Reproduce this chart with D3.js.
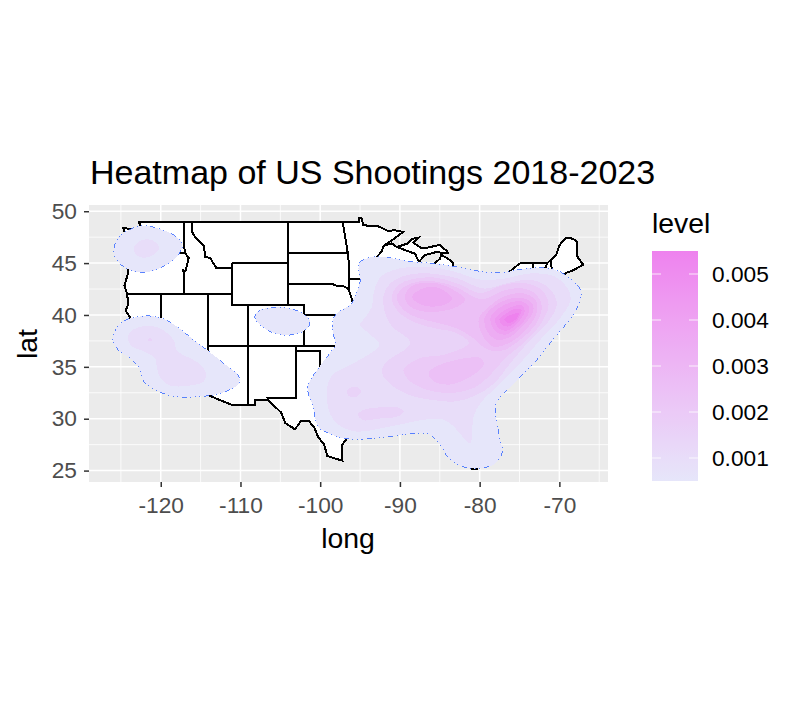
<!DOCTYPE html>
<html>
<head>
<meta charset="utf-8">
<script src="https://cdn.jsdelivr.net/npm/d3@7"></script>
<style>
  body { margin: 0; background: #fff; }
  text { font-family: "Liberation Sans", Arial, sans-serif; }
</style>
</head>
<body>
<div id="chart"></div>
<script>
// axis ticks and legend breaks
const lonTicks = [-120, -110, -100, -90, -80, -70];
const lonMinor = [-125, -115, -105, -95, -85, -75, -65];
const latTicks = [25, 30, 35, 40, 45, 50];
const latMinor = [27.5, 32.5, 37.5, 42.5, 47.5];
const levelTicks = [0.001, 0.002, 0.003, 0.004, 0.005];

// outline of the lower 48 [lon, lat]
const usOutline = [[-122.75,49],[-95.15,49],[-95.15,49.35],[-94.8,49.3],[-94.6,48.7],[-93.8,48.55],[-92.9,48.6],[-92,48.3],[-91.4,48.05],[-90.8,48.2],[-89.6,48],[-90.8,47.3],[-92,46.7],[-91,46.9],[-90.4,46.55],[-89,46.9],[-88.4,47.35],[-87.7,47.45],[-88.3,46.95],[-87.4,46.5],[-86.5,46.5],[-85,46.75],[-84.6,46.45],[-84.1,46.2],[-84,45.95],[-84.7,46],[-85.5,46.05],[-86.5,45.85],[-87,45.7],[-87.6,45.1],[-88,44.55],[-87.4,44.9],[-87.5,44.3],[-87.9,43],[-87.8,42.3],[-87.5,41.7],[-87,41.65],[-86.5,42.1],[-86.2,43],[-86.5,43.7],[-86.2,44.7],[-85.6,45],[-85,45.4],[-84.8,45.78],[-84.1,45.5],[-83.4,45.1],[-83.3,44.3],[-83.9,43.7],[-83,44.05],[-82.5,43],[-83.1,42.2],[-83.4,41.75],[-82.7,41.45],[-81.7,41.5],[-80.5,42],[-79,42.7],[-79,43.3],[-77.5,43.25],[-76.3,43.55],[-76.3,44.15],[-75,44.95],[-74.7,45],[-71.5,45],[-71.1,45.3],[-70.4,45.8],[-70,46.7],[-69.2,47.45],[-68.3,47.35],[-67.8,47.05],[-67.8,45.7],[-67.45,45.3],[-67,44.85],[-68.3,44.3],[-69,44.1],[-70.2,43.6],[-70.7,43.05],[-70.8,42.6],[-71,42.3],[-70.6,41.9],[-70,42],[-70,41.65],[-71.2,41.5],[-72.9,41.25],[-74,40.7],[-74,40],[-74.9,39],[-75.5,39.5],[-75.1,38.5],[-75.9,37.1],[-76,36.9],[-75.5,35.25],[-76.5,34.65],[-77.9,33.9],[-79.2,33.2],[-80.9,32],[-81.4,30.7],[-81.2,29.5],[-80.5,28.3],[-80,26.8],[-80.2,25.3],[-80.4,25.12],[-81,25.12],[-81.8,26],[-82.7,27.7],[-82.8,29],[-84,30.1],[-85.4,29.7],[-86.5,30.4],[-88,30.3],[-89.4,30.3],[-89.4,29.1],[-90.8,29.1],[-92,29.6],[-93.8,29.7],[-94.8,29.3],[-96.4,28.4],[-97.3,27.4],[-97.2,25.95],[-99.1,26.4],[-99.5,27.5],[-100.3,28.3],[-100.7,29.1],[-101.4,29.77],[-102.4,29.8],[-102.9,29.25],[-103.2,29],[-104.4,29.6],[-104.9,30.6],[-106.5,31.77],[-108.2,31.78],[-108.2,31.33],[-111.07,31.33],[-114.8,32.5],[-114.72,32.72],[-117.12,32.53],[-117.3,33],[-118.4,33.75],[-118.5,34.03],[-119.2,34.15],[-120.5,34.45],[-120.65,35.15],[-121.9,36.6],[-122,36.95],[-122.5,37.5],[-123,38],[-123.75,39],[-123.85,39.8],[-124.4,40.4],[-124.1,41],[-124.2,42],[-124.55,42.85],[-124.1,44],[-123.95,46.2],[-124.1,46.9],[-124.7,48.4],[-123.1,48.15],[-122.75,48.1],[-122.4,47.4],[-122.3,48],[-122.75,49]];

// state borders, west to east
const stateBorders = [
  [[-123.95,46.2],[-123.2,46.15],[-122.8,45.7],[-121.2,45.7],[-119.3,45.9],[-119,46],[-116.95,46]],
  [[-117.03,49],[-117.03,46.4],[-116.95,46],[-116.5,45.5],[-116.9,44.2],[-117.2,44.3],[-117.03,43.8],[-117.03,42]],
  [[-124.2,42],[-111.05,42]],
  [[-120,42],[-120,39],[-114.63,35]],
  [[-114.05,42],[-114.05,36.2],[-114.7,36.1],[-114.63,35],[-114.15,34.3],[-114.7,33.4],[-114.72,32.72]],
  [[-114.05,37],[-94.62,37]],
  [[-111.05,45],[-111.05,41],[-109.05,41],[-109.05,31.33]],
  [[-111.05,45],[-104.05,45]],
  [[-109.05,41],[-102.05,41],[-102.05,37]],
  [[-116.05,49],[-116.05,48],[-115.7,47.5],[-114.6,46.7],[-114.4,45.6],[-113.8,45.5],[-113.5,45.1],[-113,44.5],[-111.5,44.55],[-111.05,44.5]],
  [[-104.05,49],[-104.05,41]],
  [[-104.05,45.94],[-96.58,45.94]],
  [[-104.05,43],[-98.5,43],[-97.9,42.8],[-97,42.75],[-96.45,42.5]],
  [[-102.05,40],[-95.3,40]],
  [[-103,37],[-103,36.5],[-100,36.5],[-100,34.6],[-97,33.8],[-94.5,33.6]],
  [[-103,36.5],[-103.05,32],[-106.62,32],[-106.5,31.77]],
  [[-97.2,49],[-96.6,46.3],[-96.45,45.3],[-96.45,43.5],[-96.45,42.5],[-95.9,41.2],[-95.3,40],[-94.62,39.1],[-94.62,36.5],[-94.45,33.6],[-94.05,33],[-93.6,31.2],[-93.8,29.7]],
  [[-92,46.7],[-92.3,46.1],[-92.9,45.6],[-92.8,44.8],[-91.2,43.5],[-91.1,42.7],[-90.2,41.8],[-91.4,40.4],[-90.2,38.8],[-89.2,37],[-89.7,36],[-90.1,35],[-91.2,33],[-91.6,31],[-89.7,31],[-89.4,30.3]],
  [[-96.45,43.5],[-91.2,43.5]],
  [[-95.8,40.6],[-91.4,40.6]],
  [[-90.4,46.55],[-88.1,45.9],[-87.6,45.1]],
  [[-90.6,42.5],[-87.8,42.5]],
  [[-87.5,41.7],[-87.5,39.3],[-88,37.9],[-89.2,37]],
  [[-87,41.76],[-84.8,41.7],[-83.4,41.75]],
  [[-84.8,41.7],[-84.8,39.1],[-83,38.7],[-82.6,38.2],[-81.7,37.2],[-83.7,36.6],[-89.7,36.5]],
  [[-88,37.9],[-86,38],[-84.8,39.1]],
  [[-80.52,42],[-80.52,39.7],[-79.5,39.7],[-75.8,39.7]],
  [[-79,42],[-75.3,42],[-74.7,41.4],[-73.9,41]],
  [[-75.5,39.8],[-74.7,41.4]],
  [[-80.52,40.6],[-81.7,39.2],[-82.6,38.2]],
  [[-79.5,39.7],[-79.5,39.2],[-78.3,39.6],[-77.7,39.3],[-77,38.9],[-76.3,38]],
  [[-75.8,36.55],[-83.7,36.6]],
  [[-90.1,35],[-83.1,35],[-84.3,35],[-82.3,35.2],[-81,35.1],[-79.7,34.8],[-78.6,33.9]],
  [[-88.2,35],[-88.4,30.3]],
  [[-85.6,35],[-85.1,32.3],[-85,31],[-87.6,31],[-87.5,30.3]],
  [[-85,30.7],[-84.9,30.7],[-82.2,30.6],[-81.4,30.7]],
  [[-83.1,35],[-81,32]],
  [[-73.3,45],[-73.3,42.75],[-73.5,42],[-73.7,41.1]],
  [[-71.5,45],[-72.05,44],[-72.45,43],[-72.5,42.73]],
  [[-71.1,45.3],[-70.7,43.1]],
  [[-73.3,42.73],[-70.85,42.85]],
  [[-73.5,42.05],[-71.8,42.02],[-71.4,42],[-71.2,41.5]],
  [[-71.8,42.02],[-71.85,41.35]]
];

// density contours [lon, lat], one band per level
const lowestLevel = 0.0005;
const highestLevel = 0.0055;

const nwOuter = [[-125.9,46.1],[-125.3,47.5],[-124,48.2],[-122.2,48.6],[-119.8,48.2],[-118,47.5],[-117.3,46.7],[-118,45.6],[-119.6,44.7],[-121.9,44.1],[-123.8,44.3],[-125.3,45.1]];
const nwInner = [[-123.4,46.4],[-122.8,47.05],[-121.7,47.3],[-120.7,47.05],[-120.2,46.4],[-120.9,45.8],[-122.1,45.5],[-123.1,45.8]];
const coOuter = [[-108.2,39.8],[-107.7,40.4],[-106.25,40.7],[-104.2,40.7],[-102.3,40.2],[-101.3,39.4],[-101.65,38.7],[-102.9,38.2],[-104.6,38.05],[-106.25,38.4],[-107.5,39]];
const swOuter = [[-126.05,37.6],[-125.7,38.55],[-124.7,39.4],[-123,39.8],[-121.3,39.9],[-119.6,39.6],[-118,38.9],[-115.9,37.6],[-114,36.5],[-112.1,35.35],[-110.2,34.1],[-110.2,33.4],[-111.3,32.8],[-113.4,32.3],[-115.9,32.1],[-118.4,32.15],[-120.7,32.8],[-122.15,33.6],[-122.8,35],[-123.8,35.8],[-125.3,36.6]];
const swInner = [[-124.15,37.75],[-123.8,38.4],[-122.8,38.8],[-121.1,38.95],[-119.6,38.5],[-118.4,37.6],[-118,36.6],[-117.1,36.1],[-115.5,35.5],[-114.3,34.4],[-114.6,33.6],[-116.3,33.2],[-118.8,33.2],[-120.05,33.9],[-120.5,35],[-120.7,35.8],[-122.15,36.5],[-123.6,36.95]];
const swCore = [[-121.7,37.6],[-121.4,37.75],[-121,37.6],[-121.4,37.5]];

const eastL1 = [[-95,45.1],[-93.3,45.6],[-91.6,45.55],[-89.1,45.2],[-86.2,45],[-83.25,44.7],[-79.9,44.2],[-77,44.1],[-74.05,44.5],[-70.7,44.4],[-68.6,43.5],[-67.35,42.4],[-67.35,41.45],[-68.4,39.85],[-70.3,38.1],[-73.2,35.35],[-75.7,33.4],[-77.8,31.7],[-78,30.55],[-77.6,28.6],[-77.2,26.7],[-78.2,25.6],[-80.75,25.2],[-82.85,25.6],[-84.1,26.4],[-84.95,27.5],[-86.4,28.5],[-89.1,28.5],[-93.3,28.1],[-97.1,28.1],[-98.7,28.5],[-100.2,29.2],[-100.9,31.15],[-101.6,33],[-101,34],[-99.9,35.2],[-98.5,36.6],[-98.1,37.1],[-98.5,38.85],[-98.1,40],[-96.2,41],[-95.85,41.45],[-95,43.2],[-95.2,44.5]];
const eastL2 = [[-92.7,43.4],[-91.85,44],[-89.95,44.5],[-86.6,44.65],[-83.25,44.2],[-79.9,43.4],[-77,43.5],[-73.6,44],[-70.7,43.75],[-69,42.6],[-68.6,41.45],[-69.9,39.7],[-72.4,37.6],[-74.9,35.35],[-77.4,33.4],[-79.9,31.5],[-80.75,30.2],[-81.2,27.65],[-82,28.15],[-83.25,29.25],[-84.5,29.9],[-87,29.9],[-91.2,29.25],[-95.8,28.8],[-98.35,29.9],[-99.2,32.5],[-98.5,34.2],[-97.5,34.7],[-95,35.7],[-92.55,37.1],[-93.7,38.1],[-95,39.05],[-94.3,39.8],[-93.5,40.8],[-93.3,42.1]];
const eastL3 = [[-92.05,41.9],[-91.2,43.05],[-89.1,43.85],[-86.2,44],[-82.85,43.55],[-79.5,42.55],[-76.6,43.05],[-73.6,43.4],[-71.3,42.6],[-70.3,41.1],[-71.55,39.2],[-73.65,37.6],[-76.15,35.35],[-78.2,33.4],[-80.75,32.15],[-83.25,31.65],[-85.8,31.8],[-88.3,32.15],[-90.8,33.1],[-92.25,34.4],[-91.85,35.35],[-88.7,37.3],[-91,38.9],[-91.85,40.15]];
const texasSpot = [[-96.7,32.55],[-96.2,33],[-95.4,33.05],[-94.85,32.65],[-95.4,32.15],[-96.2,32.1]];
const louisianaSpot = [[-95.3,30.4],[-94.55,30.85],[-92.45,31.1],[-90.35,31.1],[-89.5,30.7],[-90.35,30.2],[-92.9,30],[-94.55,29.85]];
const eastL4 = [[-91,41.9],[-90.15,42.9],[-88.5,43.45],[-85.55,43.6],[-82.85,43.05],[-79.9,42.1],[-77.4,42.8],[-74.5,43.1],[-72.2,42.4],[-71.35,41],[-72.4,39.05],[-74.25,37.45],[-76.55,36],[-79.1,33.9],[-80.75,32.95],[-83.25,32.5],[-86.2,32.7],[-88.7,33.6],[-89.55,34.7],[-87.45,35.85],[-84.5,36.15],[-81.35,37.3],[-83.05,38.3],[-85.55,38.7],[-87.85,39.2],[-89.75,40],[-90.8,41]];
const eastL5 = [[-90.4,41.75],[-89.55,42.65],[-87.85,43.2],[-85.35,43.2],[-82.85,42.65],[-80.3,41.6],[-79.1,41.6],[-77,42.35],[-74.5,42.55],[-72.8,41.9],[-72.2,40.8],[-73,39.05],[-74.7,37.75],[-77,36.6],[-79.1,36.7],[-80.75,37.75],[-82.85,38.7],[-85.35,39.25],[-87.85,39.75],[-89.55,40.5]];
const southL5 = [[-86.4,34.4],[-85,35.2],[-79.9,35.85],[-79.5,35.2],[-81.15,34.05],[-83.7,33.3],[-85.75,33.6]];
const lakesL6 = [[-89.4,41.75],[-88.5,42.8],[-85.75,43.1],[-83.25,42.4],[-81.8,41.45],[-83.25,40.65],[-86.6,40.3],[-88.7,40.8]];
const lakesL7 = [[-88.5,41.75],[-87.45,42.45],[-85.55,42.7],[-83.45,41.6],[-84.5,40.95],[-86.6,40.85],[-88.05,41.3]];
const hotL6 = [[-80.1,39.7],[-79.05,40.65],[-77,41.75],[-74.65,42.1],[-73,41.45],[-72.8,40.3],[-74.05,38.7],[-75.95,37.45],[-78.25,36.95],[-79.7,38.1]];
const hotL7 = [[-79.4,39.7],[-78.25,40.8],[-76.55,41.5],[-74.7,41.65],[-73.4,41.1],[-73.3,40.3],[-74.45,39.05],[-76.15,37.9],[-77.8,37.6],[-79.05,38.4]];
const hotL8 = [[-78.65,39.7],[-77.6,40.65],[-76.15,41.2],[-74.7,41.3],[-73.85,40.8],[-73.95,40],[-75.1,38.9],[-76.8,38.1],[-78,38.4]];
const hotL9 = [[-78.05,39.6],[-77,40.4],[-75.7,40.85],[-74.7,40.95],[-74.35,40.4],[-75.1,39.35],[-76.55,38.5],[-77.6,38.7]];
const hotL10 = [[-77.5,39.6],[-76.55,40.2],[-75.5,40.6],[-74.75,40.5],[-75.3,39.5],[-76.35,38.9],[-77.2,39.05]];
const hotL11 = [[-76.9,39.6],[-76.15,40],[-75.1,40.15],[-75.3,39.7],[-76.35,39.2]];

// outer contours get the blue edge
const outerBands = [nwOuter, coOuter, swOuter, eastL1];
// [level, contour], drawn low to high
const innerBands = [
  [0.001, nwInner], [0.001, swInner], [0.0015, swCore],
  [0.001, eastL2], [0.0015, eastL3], [0.0015, texasSpot], [0.0015, louisianaSpot],
  [0.002, eastL4], [0.0025, eastL5], [0.0025, southL5],
  [0.003, lakesL6], [0.0035, lakesL7],
  [0.003, hotL6], [0.0035, hotL7], [0.004, hotL8], [0.0045, hotL9], [0.005, hotL10], [0.0055, hotL11]
];

const svgWidth = 800;
const svgHeight = 712;

const svg = d3.select('#chart')
  .append('svg')
  .attr('width', svgWidth)
  .attr('height', svgHeight)
  .style('display', 'block');

const x = d3.scaleLinear().domain([-129, -63.9]).range([89, 608]);
const y = d3.scaleLinear().domain([23.9, 50.6]).range([482, 205]);

const color = d3.scaleLinear()
  .domain([lowestLevel, highestLevel])
  .range(['#E6E6FA', '#EE82EE'])
  .interpolate(d3.interpolateLab);

// panel and grid
svg.append('rect')
  .attr('x', x.range()[0]).attr('y', y.range()[1])
  .attr('width', x.range()[1] - x.range()[0])
  .attr('height', y.range()[0] - y.range()[1])
  .attr('fill', '#EBEBEB');

const grid = svg.append('g').attr('stroke', '#fff').attr('fill', 'none');
function gridLines(vals, width) {
  vals.forEach(v => {
    if (lonMinor.includes(v) || lonTicks.includes(v)) {
      grid.append('line').attr('x1', x(v)).attr('x2', x(v))
        .attr('y1', y.range()[0]).attr('y2', y.range()[1]).attr('stroke-width', width);
    } else {
      grid.append('line').attr('y1', y(v)).attr('y2', y(v))
        .attr('x1', x.range()[0]).attr('x2', x.range()[1]).attr('stroke-width', width);
    }
  });
}
gridLines(lonMinor, 0.8);
gridLines(latMinor, 0.8);
gridLines(lonTicks, 1.5);
gridLines(latTicks, 1.5);

// map
const mapLine = d3.line().x(d => x(d[0])).y(d => y(d[1]));
const map = svg.append('g').attr('shape-rendering', 'crispEdges');
map.append('path')
  .attr('d', mapLine(usOutline) + 'Z')
  .attr('fill', '#fff')
  .attr('stroke', '#000')
  .attr('stroke-width', 2);
map.selectAll('path.state')
  .data(stateBorders)
  .enter()
  .append('path')
  .attr('class', 'state')
  .attr('d', mapLine)
  .attr('fill', 'none')
  .attr('stroke', '#000')
  .attr('stroke-width', 2);

// density bands
const bandLine = d3.line()
  .x(d => x(d[0]))
  .y(d => y(d[1]))
  .curve(d3.curveCatmullRomClosed.alpha(0.5));

const density = svg.append('g').attr('shape-rendering', 'crispEdges');
density.selectAll('path.outer')
  .data(outerBands)
  .enter()
  .append('path')
  .attr('class', 'outer')
  .attr('d', bandLine)
  .attr('fill', color(lowestLevel))
  .attr('stroke', '#3366FF')
  .attr('stroke-width', 0.8)
  .attr('stroke-dasharray', '1 3 1 4 1 3 5 4');
density.selectAll('path.inner')
  .data(innerBands)
  .enter()
  .append('path')
  .attr('class', 'inner')
  .attr('d', d => bandLine(d[1]))
  .attr('fill', d => color(d[0]));

// axes
const xAxis = svg.append('g')
  .attr('transform', `translate(0, ${y.range()[0]})`)
  .call(d3.axisBottom(x).tickValues(lonTicks).tickSize(5).tickPadding(10).tickFormat(String));
const yAxis = svg.append('g')
  .attr('transform', `translate(${x.range()[0]}, 0)`)
  .call(d3.axisLeft(y).tickValues(latTicks).tickSize(5).tickPadding(7).tickFormat(String));
[xAxis, yAxis].forEach(a => {
  a.select('.domain').remove();
  a.selectAll('line').attr('stroke', '#333').attr('stroke-width', 1.5);
  a.selectAll('text').attr('fill', '#4D4D4D').style('font-size', '22.7px')
    .style('font-family', '"Liberation Sans", Arial, sans-serif');
});

// titles
svg.append('text').attr('x', 90).attr('y', 184).attr('font-size', 34).text('Heatmap of US Shootings 2018-2023');
svg.append('text').attr('x', 348).attr('y', 548).attr('text-anchor', 'middle').attr('font-size', 28.4).text('long');
svg.append('text')
  .attr('transform', `translate(37, 344) rotate(-90)`)
  .attr('text-anchor', 'middle').attr('font-size', 28.4).text('lat');

// legend
const legendY = d3.scaleLinear().domain([lowestLevel, highestLevel]).range([481, 251]);
const gradient = svg.append('defs').append('linearGradient')
  .attr('id', 'levelRamp')
  .attr('x1', 0).attr('x2', 0).attr('y1', 1).attr('y2', 0);
gradient.selectAll('stop')
  .data(d3.range(0, 21))
  .enter()
  .append('stop')
  .attr('offset', i => i / 20)
  .attr('stop-color', i => color(lowestLevel + (highestLevel - lowestLevel) * i / 20));

svg.append('text').attr('x', 652).attr('y', 233).attr('font-size', 28.4).text('level');
svg.append('rect')
  .attr('x', 652).attr('y', legendY.range()[1])
  .attr('width', 46).attr('height', legendY.range()[0] - legendY.range()[1])
  .attr('fill', 'url(#levelRamp)');

const legendTicks = svg.append('g');
levelTicks.forEach(t => {
  legendTicks.append('line').attr('x1', 652).attr('x2', 661)
    .attr('y1', legendY(t)).attr('y2', legendY(t)).attr('stroke', '#fff').attr('stroke-width', 0.8);
  legendTicks.append('line').attr('x1', 689).attr('x2', 698)
    .attr('y1', legendY(t)).attr('y2', legendY(t)).attr('stroke', '#fff').attr('stroke-width', 0.8);
  legendTicks.append('text').attr('x', 712).attr('y', legendY(t)).attr('dy', '0.35em')
    .attr('font-size', 22.7).text(d3.format('.3f')(t));
});
</script>
</body>
</html>
